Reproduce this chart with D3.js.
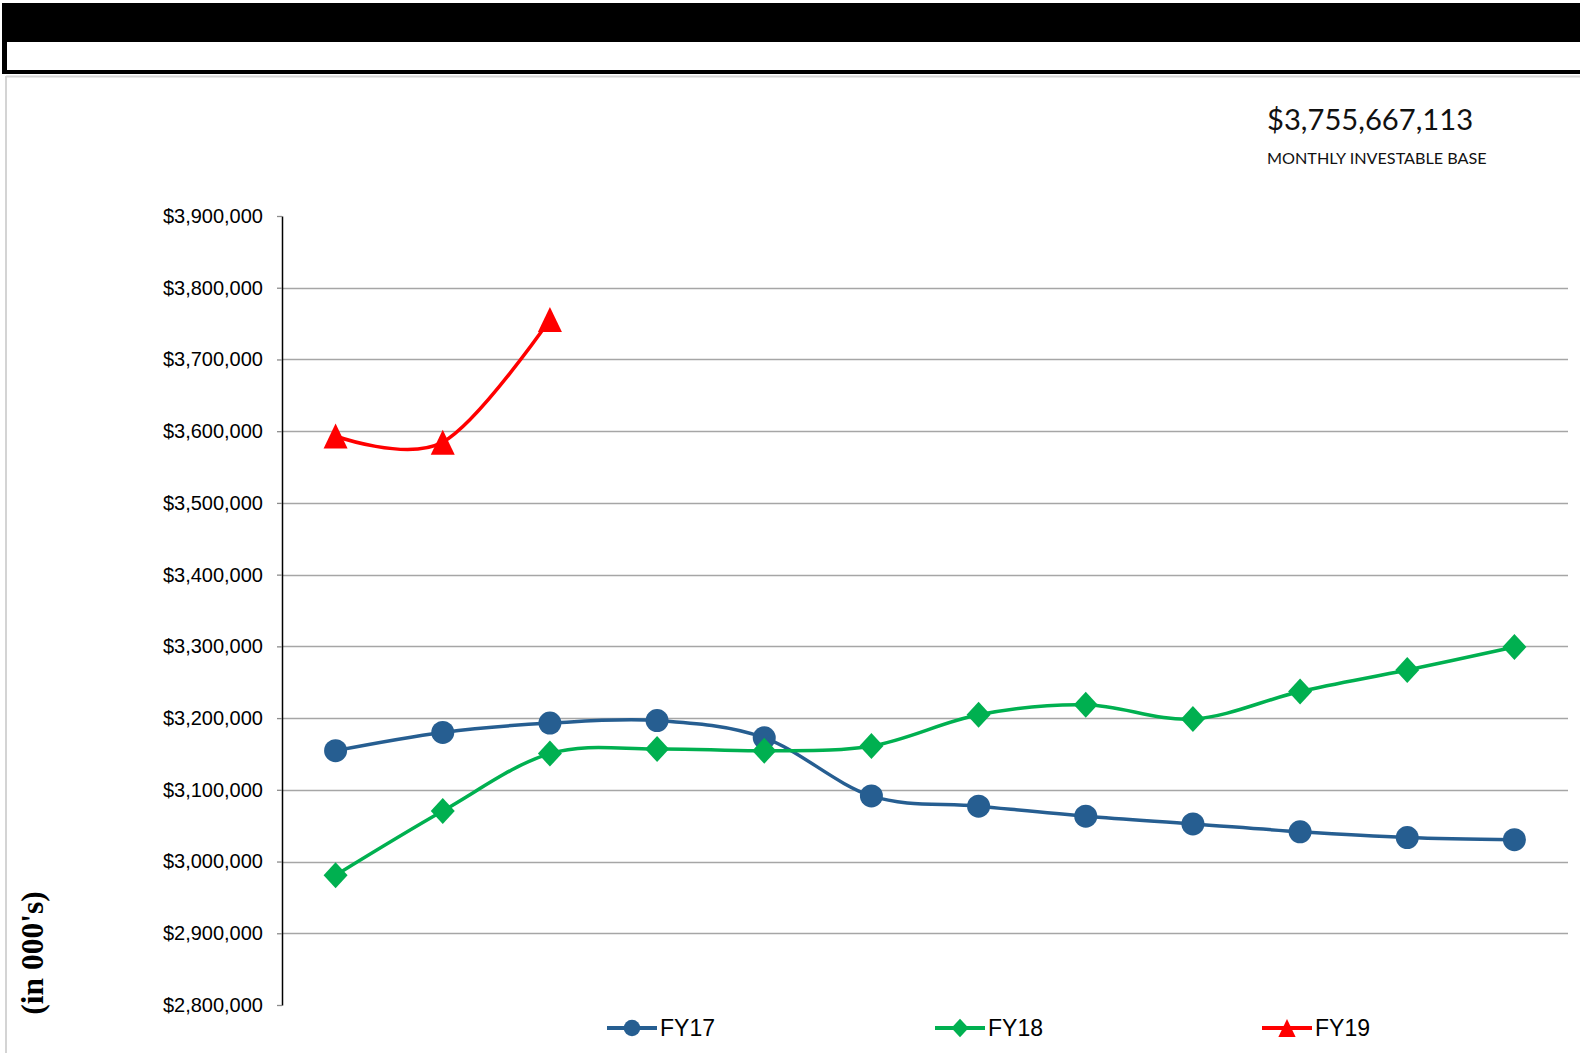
<!DOCTYPE html>
<html>
<head>
<meta charset="utf-8">
<script src="https://cdn.jsdelivr.net/npm/d3@7"></script>
<style>
  html, body { margin: 0; padding: 0; background: #fff; }
  svg { display: block; }
</style>
</head>
<body>
<svg id="chart" width="1580" height="1053"></svg>
<script>
// fiscal months (no labels are shown on the chart)
const months = ['Jul', 'Aug', 'Sep', 'Oct', 'Nov', 'Dec', 'Jan', 'Feb', 'Mar', 'Apr', 'May', 'Jun'];

// values in 000's
const fy17 = [3154600, 3180000, 3193000, 3196500, 3172500, 3091500, 3077200, 3063200, 3052500, 3041500, 3033500, 3030500];
const fy18 = [2981000, 3070500, 3150500, 3157000, 3154500, 3161000, 3204600, 3218500, 3198600, 3237000, 3267000, 3299200];
const fy19 = [3593300, 3584700, 3755667];

const seriesNames = ['FY17', 'FY18', 'FY19'];
const seriesColors = ['#265e91', '#00b050', '#ff0000'];
const seriesShapes = ['circle', 'diamond', 'triangle'];

const yTicks = [2800000, 2900000, 3000000, 3100000, 3200000, 3300000, 3400000, 3500000, 3600000, 3700000, 3800000, 3900000];

const headline = '$3,755,667,113';
const subhead = 'MONTHLY INVESTABLE BASE';
const unitsLabel = "(in 000's)";

const svg = d3.select('#chart');
const width = 1580, height = 1053;

// header banner
svg.append('rect')
  .attr('x', 2).attr('y', 3)
  .attr('width', width - 2).attr('height', 71)
  .attr('fill', '#000');
svg.append('rect')
  .attr('x', 7).attr('y', 42)
  .attr('width', width - 7).attr('height', 28)
  .attr('fill', '#fff');

// page frame
svg.append('line')
  .attr('x1', 6).attr('x2', width)
  .attr('y1', 76.5).attr('y2', 76.5)
  .attr('stroke', '#d4d4d4').attr('stroke-width', 2);
svg.append('line')
  .attr('x1', 6).attr('x2', 6)
  .attr('y1', 76).attr('y2', height)
  .attr('stroke', '#d4d4d4').attr('stroke-width', 2);

// headline figure
svg.append('text')
  .attr('x', 1267).attr('y', 130)
  .attr('font-family', 'Lato, "Open Sans", sans-serif')
  .attr('font-size', 29.2)
  .attr('fill', '#111')
  .text(headline);
svg.append('text')
  .attr('x', 1267).attr('y', 164)
  .attr('font-family', 'Lato, "Open Sans", sans-serif')
  .attr('font-size', 16.2)
  .attr('fill', '#111')
  .text(subhead);

// units label
svg.append('text')
  .attr('transform', 'translate(43, 953) rotate(-90)')
  .attr('text-anchor', 'middle')
  .attr('font-family', '"Liberation Serif", "Times New Roman", serif')
  .attr('font-weight', 'bold')
  .attr('font-size', 31.5)
  .attr('fill', '#000')
  .text(unitsLabel);

// scales
const plot = { left: 282, right: 1568, top: 216, bottom: 1005 };

const xScale = d3.scaleBand()
  .domain(months)
  .range([plot.left, plot.right]);

const yScale = d3.scaleLinear()
  .domain([2800000, 3900000])
  .range([plot.bottom, plot.top]);

const xPos = (d, i) => xScale(months[i]) + xScale.bandwidth() / 2;

// gridlines (none at top or bottom)
svg.append('g')
  .selectAll('line')
  .data(yTicks.slice(1, -1))
  .join('line')
    .attr('x1', plot.left).attr('x2', plot.right)
    .attr('y1', d => Math.round(yScale(d)) + 0.5)
    .attr('y2', d => Math.round(yScale(d)) + 0.5)
    .attr('stroke', '#a6a6a6')
    .attr('stroke-width', 1.3);

// y axis
const yAxis = d3.axisLeft(yScale)
  .tickValues(yTicks)
  .tickSizeInner(5)
  .tickSizeOuter(0)
  .tickPadding(14)
  .tickFormat(d3.format('$,.0f'));

const yAxisG = svg.append('g')
  .attr('class', 'y-axis')
  .attr('transform', `translate(${plot.left}, 0)`)
  .call(yAxis);

yAxisG.select('.domain')
  .attr('stroke', '#000')
  .attr('stroke-width', 1.5);
yAxisG.selectAll('.tick line')
  .attr('stroke', '#8c8c8c')
  .attr('stroke-width', 1.3);
yAxisG.selectAll('.tick text')
  .attr('font-family', '"Liberation Sans", Arial, sans-serif')
  .attr('font-size', 20)
  .attr('fill', '#000');

// markers
const symbolPath = (shape, s) => {
  if (shape === 'diamond') return `M0,${-13 * s}L${12 * s},0L0,${13 * s}L${-12 * s},0Z`;
  if (shape === 'triangle') return `M0,${-12.5 * s}L${12 * s},${12.5 * s}L${-12 * s},${12.5 * s}Z`;
  return null;
};

const drawMarker = (sel, shape, color, s) => {
  if (shape === 'circle') {
    sel.append('circle').attr('r', 11.5 * s).attr('fill', color);
  } else {
    sel.append('path').attr('d', symbolPath(shape, s)).attr('fill', color);
  }
};

const lineGen = d3.line()
  .x(xPos)
  .y(d => yScale(d))
  .curve(d3.curveCardinal.tension(0));

const allSeries = [fy17, fy18, fy19];

allSeries.forEach((values, k) => {
  const g = svg.append('g').attr('class', 'series-' + seriesNames[k]);
  g.append('path')
    .attr('d', lineGen(values))
    .attr('fill', 'none')
    .attr('stroke', seriesColors[k])
    .attr('stroke-width', 3.5);
  g.selectAll('.marker')
    .data(values)
    .join('g')
      .attr('class', 'marker')
      .attr('transform', (d, i) => `translate(${xPos(d, i)}, ${yScale(d)})`)
      .each(function() { drawMarker(d3.select(this), seriesShapes[k], seriesColors[k], 1); });
});

// legend
const legendX = [607, 935, 1262];
const legendY = 1028;

const legend = svg.append('g').attr('class', 'legend')
  .selectAll('g')
  .data(seriesNames)
  .join('g')
    .attr('transform', (d, i) => `translate(${legendX[i]}, ${legendY})`);

legend.append('line')
  .attr('x1', 0).attr('x2', 50)
  .attr('stroke', (d, i) => seriesColors[i])
  .attr('stroke-width', 4);

legend.each(function(d, i) {
  const m = d3.select(this).append('g').attr('transform', 'translate(25, 0)');
  drawMarker(m, seriesShapes[i], seriesColors[i], 0.72);
});

legend.append('text')
  .attr('x', 53)
  .attr('dy', '0.36em')
  .attr('font-family', '"Liberation Sans", Arial, sans-serif')
  .attr('font-size', 23)
  .attr('fill', '#000')
  .text(d => d);
</script>
</body>
</html>
